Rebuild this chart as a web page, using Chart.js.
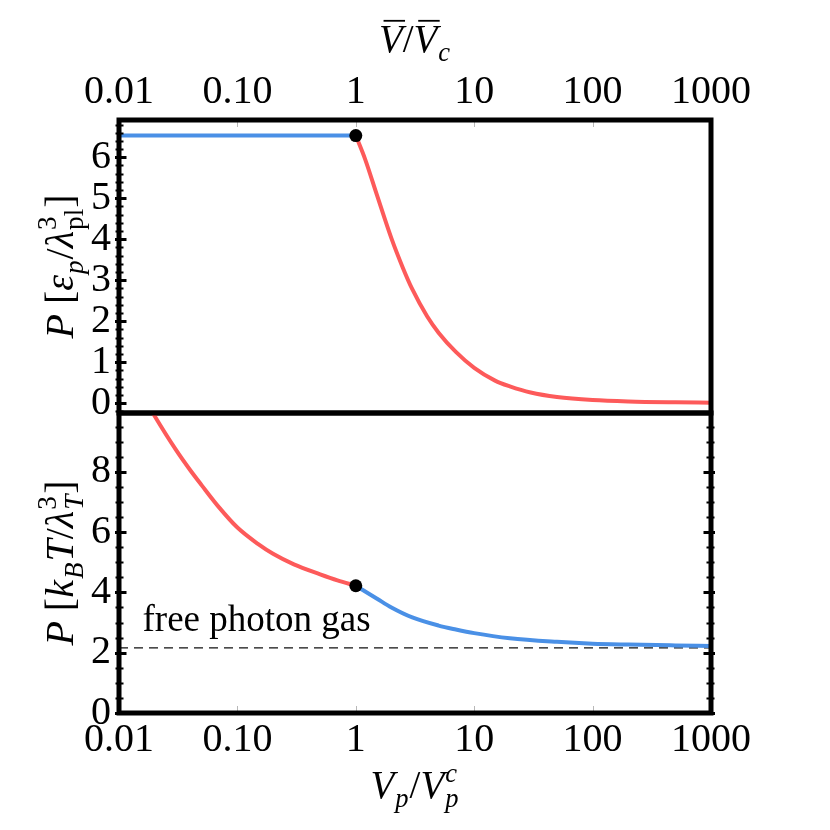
<!DOCTYPE html>
<html>
<head>
<meta charset="utf-8">
<script src="https://cdn.jsdelivr.net/npm/chart.js@4.4.0/dist/chart.umd.min.js"></script>
<style>
    html, body { margin: 0; padding: 0; background: #fff; }
    #wrap { position: relative; width: 830px; height: 830px; overflow: hidden; }
    canvas { position: absolute; left: 0; }
    #topChart { top: 0; }
    #bottomChart { top: 400px; }
</style>
</head>
<body>
<div id="wrap">
    <canvas id="topChart" width="830" height="420"></canvas>
    <canvas id="bottomChart" width="830" height="430"></canvas>
</div>
<script>
// P vs volume, two panels - shared log x axis
(function() {
    'use strict';

    // ---- data ----
    const xTicks = [0.01, 0.1, 1, 10, 100, 1000];
    const xTickLabels = ['0.01', '0.10', '1', '10', '100', '1000'];
    const topYTicks = [0, 1, 2, 3, 4, 5, 6];
    const bottomYTicks = [0, 2, 4, 6, 8];

    // upper panel: P [eps_p / lambda_pl^3] vs V/Vc
    const topBlueX = [0.01, 1];
    const topBlueY = [6.53, 6.53];
    const topRedX = [1, 1.2, 1.5, 2, 2.5, 3, 4, 5, 7, 10, 15, 20, 30, 50, 100, 200, 500, 1000];
    const topRedY = [6.53, 5.95, 5.1, 4.02, 3.3, 2.78, 2.12, 1.72, 1.25, 0.86, 0.55, 0.41, 0.26, 0.15, 0.075, 0.04, 0.02, 0.012];
    const topCritX = [1];
    const topCritY = [6.53];

    // lower panel: P [kB T / lambda_T^3] vs Vp/Vp^c
    const botRedX = [0.015, 0.02, 0.03, 0.04, 0.05, 0.07, 0.1, 0.15, 0.2, 0.3, 0.5, 0.7, 1];
    const botRedY = [10.7, 9.85, 8.75, 8.05, 7.55, 6.82, 6.15, 5.6, 5.28, 4.93, 4.6, 4.4, 4.22];
    const botBlueX = [1, 1.5, 2, 3, 5, 7, 10, 20, 50, 100, 200, 500, 1000];
    const botBlueY = [4.22, 3.8, 3.5, 3.17, 2.9, 2.77, 2.65, 2.48, 2.36, 2.3, 2.27, 2.24, 2.22];
    const botCritX = [1];
    const botCritY = [4.22];
    const photonGasX = [0.01, 1000];
    const photonGasY = [2.16, 2.16];

    const BLUE = '#4a90e6';
    const RED = '#fd5a5a';
    const FONT = 'Liberation Serif';

    Chart.defaults.font.family = FONT;
    Chart.defaults.color = '#000';

    const pts = (xs, ys) => xs.map((x, i) => ({ x: x, y: ys[i] }));

    // text with sub / superscripts, drawn centred at (x, y baseline)
    function drawRich(ctx, parts, size, x, y, angle) {
        const small = size * 0.68;
        const setFont = (it, s) => { ctx.font = (it ? 'italic ' : '') + s + 'px ' + FONT; };
        ctx.save();
        ctx.translate(x, y);
        ctx.rotate(angle || 0);
        ctx.textAlign = 'left';
        ctx.textBaseline = 'alphabetic';
        ctx.fillStyle = '#000';
        const items = parts.map(p => {
            setFont(p.it, size);
            const w = ctx.measureText(p.t).width;
            let ws = 0;
            if (p.sub) { setFont(p.subIt, small); ws = ctx.measureText(p.sub).width; }
            if (p.sup) { setFont(p.supIt, small); ws = Math.max(ws, ctx.measureText(p.sup).width); }
            return { p, w, ws };
        });
        const total = items.reduce((s, i) => s + i.w + (i.ws ? i.ws + 2 : 0), 0);
        let cx = -total / 2;
        items.forEach(({ p, w, ws }) => {
            setFont(p.it, size);
            ctx.fillText(p.t, cx, 0);
            if (p.bar) {
                ctx.strokeStyle = '#000';
                ctx.lineWidth = 1.8;
                ctx.beginPath();
                ctx.moveTo(cx + size * 0.12, -size * 0.8);
                ctx.lineTo(cx + w + size * 0.06, -size * 0.8);
                ctx.stroke();
            }
            cx += w;
            if (p.sub) { setFont(p.subIt, small); ctx.fillText(p.sub, cx + 1, size * 0.24); }
            if (p.sup) { setFont(p.supIt, small); ctx.fillText(p.sup, cx + 1, -size * 0.42); }
            if (ws) cx += ws + 2;
        });
        ctx.restore();
    }

    // thick frame, ticks, axis titles and note
    const framePlugin = {
        id: 'frame',
        afterDatasetsDraw(chart, args, o) {
            const { ctx, chartArea: a } = chart;
            const xs = chart.scales.x;
            const ys = chart.scales.y;
            ctx.save();
            ctx.strokeStyle = '#000';

            // y ticks (major + minor)
            const n0 = Math.ceil(ys.min / o.yMinor - 1e-9);
            const n1 = Math.floor(ys.max / o.yMinor + 1e-9);
            for (let n = n0; n <= n1; n++) {
                const v = n * o.yMinor;
                const y = Math.round(ys.getPixelForValue(v)) + 0.5;
                const r = v / o.yMajor;
                const major = Math.abs(r - Math.round(r)) < 1e-6;
                ctx.lineWidth = major ? 3 : 2;
                const out = major ? 4 : 3.5;
                const inn = major ? 7.5 : 4.5;
                ctx.beginPath();
                ctx.moveTo(a.left - out, y);
                ctx.lineTo(a.left + inn, y);
                if (o.rightTicks) {
                    ctx.moveTo(a.right + out, y);
                    ctx.lineTo(a.right - inn, y);
                }
                ctx.stroke();
            }

            // faint x ticks on the outer edge
            ctx.strokeStyle = '#b8b8b8';
            ctx.lineWidth = 1;
            xTicks.forEach(v => {
                const x = Math.round(xs.getPixelForValue(v)) + 0.5;
                const yEdge = o.xEdge === 'top' ? a.top : a.bottom;
                const dir = o.xEdge === 'top' ? 1 : -1;
                ctx.beginPath();
                ctx.moveTo(x, yEdge + dir * 2);
                ctx.lineTo(x, yEdge + dir * 7);
                ctx.stroke();
            });

            // frame
            ctx.strokeStyle = '#000';
            ctx.lineWidth = 5;
            ctx.strokeRect(a.left, a.top, a.right - a.left, a.bottom - a.top);

            // titles
            drawRich(ctx, o.xTitle, 39, (a.left + a.right) / 2, o.xTitleY, 0);
            drawRich(ctx, o.yTitle, 40, o.yTitleX, (a.top + a.bottom) / 2, -Math.PI / 2);

            if (o.note) {
                ctx.fillStyle = '#000';
                ctx.font = o.note.size + 'px ' + FONT;
                ctx.textAlign = 'left';
                ctx.textBaseline = 'alphabetic';
                ctx.fillText(o.note.text, xs.getPixelForValue(o.note.x), ys.getPixelForValue(o.note.y));
            }
            ctx.restore();
        }
    };

    const tickFont = { family: FONT, size: 40 };

    function xScale(position, height, pad) {
        return {
            type: 'logarithmic',
            position: position,
            min: 0.01,
            max: 1000,
            afterBuildTicks: s => { s.ticks = xTicks.map(v => ({ value: v })); },
            afterFit: s => {
                s.height = height;
                s.paddingLeft = 0;
                s.paddingRight = 0;
            },
            ticks: {
                autoSkip: false,
                maxRotation: 0,
                padding: pad,
                font: tickFont,
                color: '#000',
                callback: v => xTickLabels[xTicks.indexOf(v)]
            },
            grid: { display: false, drawTicks: false },
            border: { display: false }
        };
    }

    function yScale(min, max, ticks) {
        return {
            type: 'linear',
            min: min,
            max: max,
            afterBuildTicks: s => { s.ticks = ticks.map(v => ({ value: v })); },
            afterFit: s => {
                s.width = 119;
                s.paddingTop = 0;
                s.paddingBottom = 0;
            },
            ticks: {
                autoSkip: false,
                padding: 8,
                font: tickFont,
                color: '#000',
                callback: v => String(v)
            },
            grid: { display: false, drawTicks: false },
            border: { display: false }
        };
    }

    function lineSet(data, color) {
        return {
            data: data,
            borderColor: color,
            borderWidth: 4,
            pointRadius: 0,
            fill: false,
            cubicInterpolationMode: 'monotone'
        };
    }

    function dotSet(data) {
        return {
            data: data,
            showLine: false,
            pointRadius: 6.5,
            pointBackgroundColor: '#000',
            pointBorderColor: '#000',
            pointBorderWidth: 0
        };
    }

    const baseOptions = {
        responsive: false,
        animation: false,
        events: [],
        plugins: { legend: { display: false }, tooltip: { enabled: false } }
    };

    // upper panel
    new Chart(document.getElementById('topChart'), {
        type: 'line',
        data: {
            datasets: [
                dotSet(pts(topCritX, topCritY)),
                lineSet(pts(topRedX, topRedY), RED),
                lineSet(pts(topBlueX, topBlueY), BLUE)
            ]
        },
        options: Object.assign({}, baseOptions, {
            layout: { padding: { left: 0, right: 119, top: 0, bottom: 7 } },
            scales: {
                x: xScale('top', 120, 4),
                y: yScale(-0.24, 6.91, topYTicks)
            },
            plugins: Object.assign({}, baseOptions.plugins, {
                frame: {
                    yMinor: 0.2, yMajor: 1, rightTicks: false, xEdge: 'top',
                    xTitleY: 52, yTitleX: 73,
                    xTitle: [
                        { t: 'V', it: true, bar: true },
                        { t: '/' },
                        { t: 'V', it: true, bar: true, sub: 'c', subIt: true }
                    ],
                    yTitle: [
                        { t: 'P', it: true },
                        { t: ' [' },
                        { t: 'ε', it: true, sub: 'p', subIt: true },
                        { t: '/' },
                        { t: 'λ', it: true, sub: 'pl', sup: '3' },
                        { t: ']' }
                    ]
                }
            })
        }),
        plugins: [framePlugin]
    });

    // lower panel
    new Chart(document.getElementById('bottomChart'), {
        type: 'line',
        data: {
            datasets: [
                dotSet(pts(botCritX, botCritY)),
                lineSet(pts(botRedX, botRedY), RED),
                lineSet(pts(botBlueX, botBlueY), BLUE),
                {
                    data: pts(photonGasX, photonGasY),
                    borderColor: '#111',
                    borderWidth: 1.3,
                    borderDash: [9, 6],
                    pointRadius: 0,
                    fill: false
                }
            ]
        },
        options: Object.assign({}, baseOptions, {
            layout: { padding: { left: 0, right: 119, top: 13, bottom: 0 } },
            scales: {
                x: xScale('bottom', 117, 3),
                y: yScale(0, 9.95, bottomYTicks)
            },
            plugins: Object.assign({}, baseOptions.plugins, {
                frame: {
                    yMinor: 0.5, yMajor: 2, rightTicks: true, xEdge: 'bottom',
                    xTitleY: 398, yTitleX: 73,
                    note: { text: 'free photon gas', x: 0.0158, y: 2.72, size: 37 },
                    xTitle: [
                        { t: 'V', it: true, sub: 'p', subIt: true },
                        { t: '/' },
                        { t: 'V', it: true, sub: 'p', subIt: true, sup: 'c', supIt: true }
                    ],
                    yTitle: [
                        { t: 'P', it: true },
                        { t: ' [' },
                        { t: 'k', it: true, sub: 'B', subIt: true },
                        { t: 'T', it: true },
                        { t: '/' },
                        { t: 'λ', it: true, sub: 'T', subIt: true, sup: '3' },
                        { t: ']' }
                    ]
                }
            })
        }),
        plugins: [framePlugin]
    });
})();
</script>
</body>
</html>
